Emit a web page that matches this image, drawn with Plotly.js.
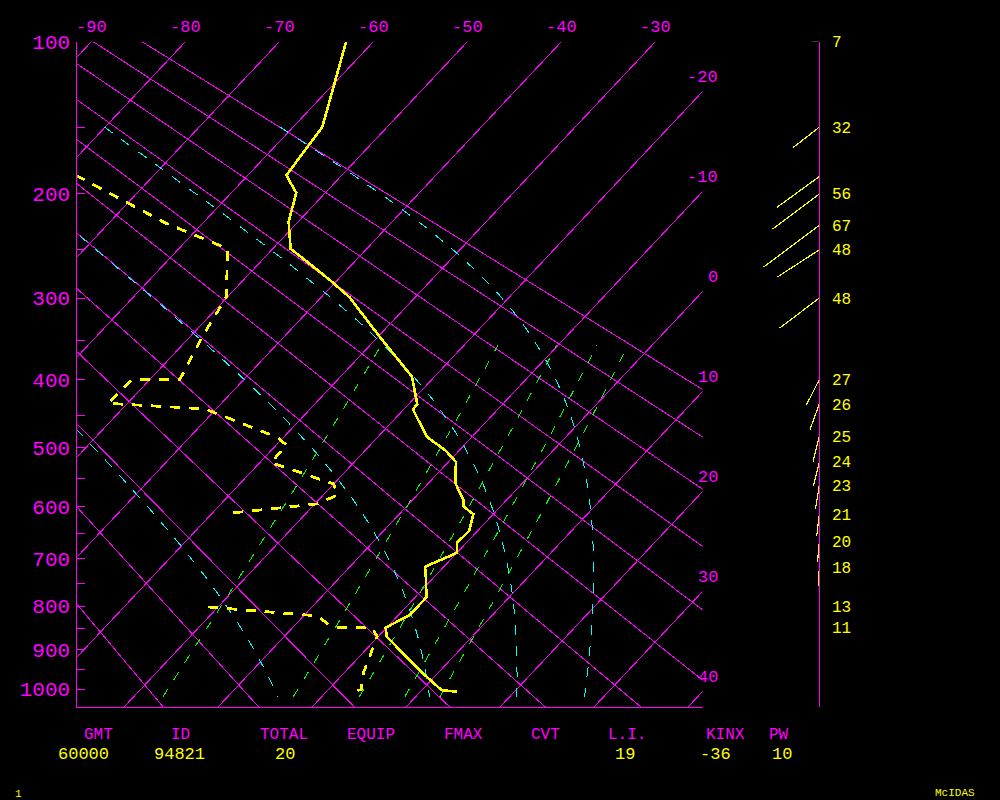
<!DOCTYPE html>
<html>
<head>
<meta charset="utf-8">
<script src="https://cdn.plot.ly/plotly-3.0.1.min.js"></script>
<style>
html,body{margin:0;padding:0;background:#000;overflow:hidden;}
#chart{width:1000px;height:800px;}
#chart path{shape-rendering:crispEdges;}
</style>
</head>
<body>
<div id="chart"></div>
<script>
// ================= DATA =================
// Temperature sounding: pressure (hPa) and temperature (deg C)
const tempP = [100,150,185,199,224,249,259,281,299,345,396,434,442,483,504,523,559,588,600,614,645,668,688,716,747,781,820,849,870,956,1003,1007];
const tempC = [-62.9,-56.9,-55.9,-53.1,-51.0,-48.1,-45.7,-40.7,-37.0,-29.8,-22.4,-19.1,-19.0,-14.8,-11.5,-9.2,-7.1,-4.6,-3.9,-2.1,-0.9,-1.0,0.0,-2.0,-0.4,1.2,1.2,-0.1,0.9,8.1,12.1,13.9];

// Dewpoint sounding (null = missing level, line broken)
const dewP = [185,225,249,299,345,400,400,433,441,484,496,524,560,579,595,612,null,802,822,848,850,870,956,1002,1007];
const dewC = [-78.3,-64.0,-54.8,-50.1,-48.7,-46.8,-51.9,-52.1,-41.2,-30.6,-28.9,-28.8,-20.0,-18.5,-19.7,-28.1,null,-21.1,-8.6,-5.8,-1.5,-0.1,2.0,3.5,2.4];

// Winds: pressure (hPa), direction (deg), speed (kt), printed label
const windP   = [100,150,186,200,227,250,300,400,434,482,523,562,615,666,717,802,848];
const windDir = [270,232,234,233,233,237,233,207,200,194,194,189,187,185,183,180,180];
const windSpd = [7,32,50,56,67,48,48,27,26,25,24,23,21,20,18,13,11];
const windLabel = ["7","32","","56","67","48","48","27","26","25","24","23","21","20","18","13","11"];

// Diagram reference lines
const isotherms = [-90,-80,-70,-60,-50,-40,-30,-20,-10,0,10,20,30,40];
const isothermTopLabels = [-90,-80,-70,-60,-50,-40,-30];
const isothermRightLabels = [-20,-10,0,10,20,30,40];
const dryAdiabats = [-20,-10,0,10,20,30,40,50,60,70,80,90];   // potential temperature, deg C
const mixingRatios = [1,3,5,7,9];                               // g/kg
const moistAdiabats1000 = [-5.8,10.6,20.0,27.3];                // deg C at 1000 hPa
const pressureTicks = [100,150,200,250,300,350,400,450,500,550,600,650,700,750,800,850,900,950,1000];

// Stability indices printed below the diagram
const infoNames  = ["GMT","ID","TOTAL","EQUIP","FMAX","CVT","L.I.","KINX","PW"];
const infoValues = ["60000","94821","20","","","","19","-36","10"];

// ================= GEOMETRY / STYLE =================
const W = 1000, H = 800;
const PLOT_L = 77.3, PLOT_R = 702.5, PLOT_T = 41.7, PLOT_B = 707.3, Y1000_PX = 689;
const WIND_AXIS_PX = 819.3;
const KAPPA = 0.286;
const Yof = p => Math.pow(p / 1000, KAPPA);
const SY = (Y1000_PX - PLOT_T) / (1 - Yof(100));   // px per Y unit
const SX = 9.4;                                      // px per deg C
const SKEW = 0.94 * SY / SX;
const X_LEFT = -26.77;
const X_RIGHT = X_LEFT + (PLOT_R - PLOT_L) / SX;
const Y_TOP = Yof(100);
const Y_BOT = 1 + (PLOT_B - Y1000_PX) / SY;
const Xof = (T, Y) => T + SKEW * (1 - Y);
const THETA_FACTOR = 1.003;
const LATENT_FACTOR = 0.92;

const MAG = '#ff00ff', YEL = '#ffff00', CYA = '#00ffff', GRN = '#00ff00';
const FONT = 'Liberation Mono, DejaVu Sans Mono, monospace';
const infoNameX  = [98.8,180.8,283.7,370.5,463.7,545.5,626.5,725.8,778.8];
const infoValueX = [83,179.5,284.5,0,0,0,624.8,715,782];

// ================= THERMODYNAMICS =================
function esat(Tc){ return 6.112 * Math.exp(17.67 * Tc / (Tc + 243.5)); }
function rsat(Tc, p){ const e = esat(Tc); return 0.622 * e / (p - e); }
function dTdp(Tc, p){
  const T = Tc + 273.15, rs = LATENT_FACTOR * rsat(Tc, p);
  const Rd = 287.04, cp = 1005.7, Lv = 2.501e6, eps = 0.622;
  return (Rd * T + Lv * rs) / (p * (cp + Lv * Lv * rs * eps / (Rd * T * T)));
}
function moistCurve(T0){
  const above = [], below = [];
  let T = T0, p = 1000;
  while (p > 150) { const h = -2; const k1 = dTdp(T, p); const k2 = dTdp(T + k1 * h, p + h); T += (k1 + k2) / 2 * h; p += h; above.push([p, T]); }
  T = T0; p = 1000; below.push([p, T]);
  while (p < 1020) { const h = 2; const k1 = dTdp(T, p); const k2 = dTdp(T + k1 * h, p + h); T += (k1 + k2) / 2 * h; p += h; below.push([p, T]); }
  return above.reverse().concat(below);
}
function tdFromMix(w, p){
  const e = w * p / (622 + w);
  const l = Math.log(e / 6.112);
  return 243.5 * l / (17.67 - l);
}

// ================= TRACES =================
const traces = [];
// isotherms + dry adiabats (magenta solid)
const gx = [], gy = [];
isotherms.forEach(T => { [0.45, 1.05].forEach(Y => { gx.push(Xof(T, Y)); gy.push(Y); }); gx.push(null); gy.push(null); });
dryAdiabats.forEach(th => {
  const tk = (th + 273.15) * THETA_FACTOR;
  [0.45, 1.05].forEach(Y => { gx.push(Xof(tk * Y - 273.15, Y)); gy.push(Y); });
  gx.push(null); gy.push(null);
});
traces.push({x: gx, y: gy, mode: 'lines', line: {color: MAG, width: 1}, hoverinfo: 'skip'});

// mixing ratio lines (green dashed)
mixingRatios.forEach(w => {
  const xs = [], ys = [];
  for (let p = 1020; p >= 355; p -= 5) { const Y = Yof(p); xs.push(Xof(tdFromMix(w, p), Y)); ys.push(Y); }
  traces.push({x: xs, y: ys, mode: 'lines', line: {color: GRN, width: 1, dash: '9px,11px'}, hoverinfo: 'skip'});
});

// moist adiabats (cyan dashed)
moistAdiabats1000.forEach(T0 => {
  const pts = moistCurve(T0);
  const xs = [], ys = [];
  pts.forEach(([p, T]) => { const Y = Yof(p); xs.push(Xof(T, Y)); ys.push(Y); });
  traces.push({x: xs, y: ys, mode: 'lines', line: {color: CYA, width: 1, dash: '10px,11px'}, hoverinfo: 'skip'});
});

// dewpoint (yellow dashed)
traces.push({
  x: dewP.map((p, i) => p === null ? null : Xof(dewC[i], Yof(p))),
  y: dewP.map(p => p === null ? null : Yof(p)),
  mode: 'lines', connectgaps: false, line: {color: YEL, width: 2.8, dash: '10px,9px'}, hoverinfo: 'skip'
});
// temperature (yellow solid)
traces.push({
  x: tempP.map((p, i) => Xof(tempC[i], Yof(p))),
  y: tempP.map(p => Yof(p)),
  mode: 'lines', line: {color: YEL, width: 2.6}, hoverinfo: 'skip'
});

// wind sticks
const wx = [], wy = [];
windP.forEach((p, i) => {
  const L = 1.04 * windSpd[i];
  const a = windDir[i] * Math.PI / 180;
  const Y0 = Yof(p);
  wx.push(0, L * Math.sin(a), null);
  wy.push(Y0, Y0 - L * Math.cos(a) / SY, null);
});
traces.push({x: wx, y: wy, xaxis: 'x2', yaxis: 'y', mode: 'lines', line: {color: YEL, width: 1.2}, hoverinfo: 'skip'});

// ================= ANNOTATIONS =================
const ann = [];
isothermTopLabels.forEach(T => ann.push({
  x: Xof(T, Y_TOP), xref: 'x', y: 1 - 27.5 / H, yref: 'paper', text: String(T),
  showarrow: false, xanchor: 'center', yanchor: 'middle', font: {family: FONT, size: 17, color: MAG}
}));
isothermRightLabels.forEach(T => ann.push({
  x: (PLOT_R + 17.5) / W, xref: 'paper', y: 1 - (X_RIGHT - T) / SKEW, yref: 'y', yshift: 14,
  text: String(T), showarrow: false, xanchor: 'right', yanchor: 'middle', font: {family: FONT, size: 17, color: MAG}
}));
windP.forEach((p, i) => { if (windLabel[i]) ann.push({
  x: 11, xref: 'x2', y: Yof(p), yref: 'y', yshift: -1.5, text: windLabel[i], showarrow: false,
  xanchor: 'left', yanchor: 'middle', font: {family: FONT, size: 16, color: YEL}
}); });
infoNames.forEach((n, i) => ann.push({
  x: infoNameX[i] / W, xref: 'paper', y: 1 - 735 / H, yref: 'paper', text: n, showarrow: false,
  xanchor: 'center', yanchor: 'middle', font: {family: FONT, size: 16, color: MAG}
}));
infoValues.forEach((v, i) => { if (v) ann.push({
  x: infoValueX[i] / W, xref: 'paper', y: 1 - 754.6 / H, yref: 'paper', text: v, showarrow: false,
  xanchor: 'center', yanchor: 'middle', font: {family: FONT, size: 17, color: YEL}
}); });
ann.push({x: 18.7 / W, xref: 'paper', y: 1 - 794 / H, yref: 'paper', text: '1', showarrow: false,
  xanchor: 'center', yanchor: 'middle', font: {family: FONT, size: 11, color: YEL}});
ann.push({x: 955 / W, xref: 'paper', y: 1 - 793 / H, yref: 'paper', text: 'McIDAS', showarrow: false,
  xanchor: 'center', yanchor: 'middle', font: {family: FONT, size: 11, color: YEL}});

// ================= LAYOUT =================
const layout = {
  width: W, height: H,
  margin: {l: 0, r: 0, t: 0, b: 0, pad: 0},
  paper_bgcolor: '#000', plot_bgcolor: '#000',
  showlegend: false,
  xaxis: {
    domain: [PLOT_L / W, PLOT_R / W], range: [X_LEFT, X_RIGHT],
    showgrid: false, zeroline: false, showticklabels: false, ticks: '',
    showline: true, linecolor: MAG, linewidth: 1, fixedrange: true
  },
  xaxis2: {
    domain: [0.705, 0.995], range: [705 - WIND_AXIS_PX, 995 - WIND_AXIS_PX],
    anchor: 'y', visible: false, fixedrange: true
  },
  yaxis: {
    domain: [1 - PLOT_B / H, 1 - PLOT_T / H], range: [Y_BOT, Y_TOP],
    tickmode: 'array', tickvals: pressureTicks.map(Yof),
    ticktext: pressureTicks.map(p => p % 100 === 0 ? String(p) : ''),
    ticks: 'inside', ticklen: 8, tickwidth: 1, tickcolor: MAG,
    tickfont: {family: FONT, size: 21, color: MAG}, ticklabelstandoff: 2,
    showgrid: false, zeroline: false, showline: true, linecolor: MAG, linewidth: 1, fixedrange: true
  },
  shapes: [{
    type: 'line', xref: 'x2', yref: 'y', x0: 0, x1: 0, y0: Y_TOP, y1: Y_BOT,
    line: {color: MAG, width: 1}
  }],
  annotations: ann
};

Plotly.newPlot('chart', traces, layout, {staticPlot: true, displayModeBar: false});
</script>
</body>
</html>
